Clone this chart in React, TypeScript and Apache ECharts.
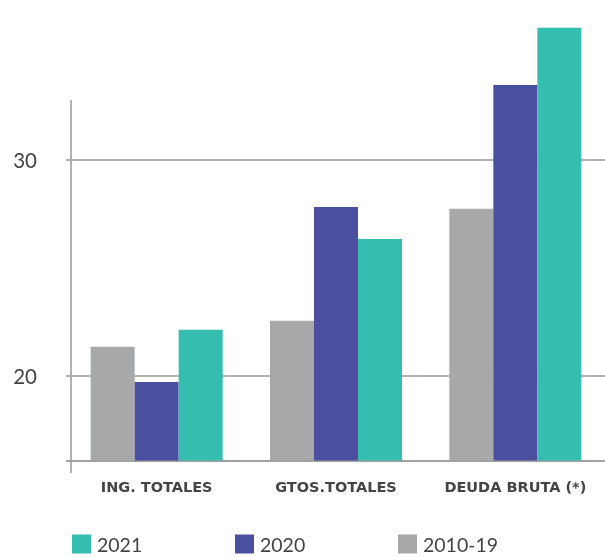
import React, { useEffect, useRef } from "react";
import * as echarts from "echarts";

const categories = ["ING. TOTALES", "GTOS.TOTALES", "DEUDA BRUTA (*)"];
const seriesNames = ["2010-19", "2020", "2021"];
const values2010_19 = [21.35, 22.55, 27.73];
const values2020 = [19.72, 27.82, 33.47];
const values2021 = [22.13, 26.34, 36.11];
const yTickLabels = [20, 30];
const legendOrder = ["2021", "2020", "2010-19"];
const colors = { "2010-19": "#A6A8AA", "2020": "#4A4F9F", "2021": "#35BDAF" };

const Y_MIN = 16.08;
const Y_MAX = 37.4;
const legendLefts = [72, 235, 398];

export default function App() {
  const ref = useRef<HTMLDivElement>(null);
  useEffect(() => {
    if (!ref.current) return;
    const chart = echarts.init(ref.current, undefined, { renderer: "svg" });
    const dataSets = [values2010_19, values2020, values2021];
    chart.setOption({
      animation: false,
      grid: { left: 67, right: 0, top: 0, bottom: 96.5, containLabel: false },
      xAxis: {
        type: "category",
        data: categories,
        axisLine: { show: true, lineStyle: { color: "#9a9a9a", width: 1.5 } },
        axisTick: { show: false },
        axisLabel: {
          interval: 0,
          hideOverlap: false,
          margin: 19,
          color: "#444",
          fontFamily: "DejaVu Sans",
          fontWeight: "bold",
          fontSize: 14.5,
        },
      },
      yAxis: {
        type: "value",
        min: Y_MIN,
        max: Y_MAX,
        axisLine: { show: false },
        axisTick: {
          show: true,
          length: 1,
          customValues: [Y_MIN, ...yTickLabels],
          lineStyle: { color: "#9a9a9a", width: 1.5 },
        },
        axisLabel: {
          customValues: yTickLabels,
          margin: 30,
          color: "#444",
          fontFamily: "Lato",
          fontSize: 20.5,
        },
        splitLine: { show: true, lineStyle: { color: "#9a9a9a", width: 1.5 } },
      },
      legend: legendOrder.map((name, i) => ({
        data: [name],
        left: legendLefts[i],
        top: 534,
        padding: 0,
        itemWidth: 19,
        itemHeight: 19,
        icon: "rect",
        textStyle: {
          color: "#444",
          fontFamily: "Lato",
          fontSize: 19.5,
          padding: [2, 0, 0, 1],
        },
      })),
      graphic: [
        {
          type: "line",
          shape: { x1: 71, y1: 100, x2: 71, y2: 473 },
          style: { stroke: "#9a9a9a", lineWidth: 1.5 },
          z: 10,
        },
      ],
      series: seriesNames.map((name, i) => ({
        name,
        type: "bar",
        data: dataSets[i],
        barWidth: 44,
        barGap: "0%",
        itemStyle: { color: (colors as any)[name] },
      })),
    });
    return () => chart.dispose();
  }, []);
  return (
    <div
      ref={ref}
      style={{ position: "fixed", left: 0, top: 0, width: 605, height: 557 }}
    />
  );
}
